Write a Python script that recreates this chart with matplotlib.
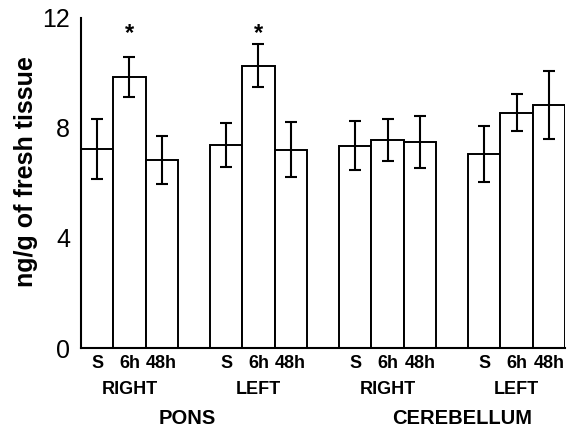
import matplotlib
matplotlib.use("Agg")
import matplotlib.pyplot as plt
import matplotlib.transforms as mtransforms
import numpy as np

plt.rcParams['font.family'] = ['Liberation Sans', 'DejaVu Sans']

# data (ng/g of fresh tissue)
times = ["S", "6h", "48h"]
sides = ["RIGHT", "LEFT", "RIGHT", "LEFT"]
regions = ["PONS", "CEREBELLUM"]
means = [
    [7.24, 9.85, 6.83],   # pons right
    [7.38, 10.27, 7.20],  # pons left
    [7.35, 7.56, 7.49],   # cerebellum right
    [7.05, 8.55, 8.84],   # cerebellum left
]
errors = [
    [1.10, 0.73, 0.87],
    [0.80, 0.78, 1.00],
    [0.89, 0.76, 0.93],
    [1.02, 0.67, 1.25],
]
signif = [
    [False, True, False],
    [False, True, False],
    [False, False, False],
    [False, False, False],
]

fig = plt.figure(figsize=(5.71, 4.28), dpi=100)
ax = fig.add_axes([0.1419, 0.1869, 0.9895 - 0.1419, 0.958 - 0.1869])

xpos, xlab = [], []
for g in range(4):
    x = 4 * g + np.arange(3) + 0.5
    ax.bar(x, means[g], width=1.0, color="white", edgecolor="black",
           linewidth=1.4, zorder=2)
    ax.errorbar(x, means[g], yerr=errors[g], fmt="none", ecolor="black",
                elinewidth=1.5, capsize=4, capthick=1.5, zorder=3)
    for i in range(3):
        if signif[g][i]:
            ax.text(x[i], 11.45, "*", ha="center", va="center",
                    fontsize=17, fontweight="bold")
    xpos.extend(x)
    xlab.extend(times)

ax.set_xlim(0, 15)
ax.set_ylim(0, 12)
ax.set_yticks([0, 4, 8, 12])
ax.set_yticklabels(["0", "4", "8", "12"], fontsize=18)
ax.set_xticks(xpos)
ax.set_xticklabels(xlab, fontsize=13, fontweight="bold")
ax.tick_params(axis="both", length=0)
ax.tick_params(axis="x", pad=5)
ax.tick_params(axis="y", pad=8)

for s in ["top", "right"]:
    ax.spines[s].set_visible(False)
for s in ["left", "bottom"]:
    ax.spines[s].set_linewidth(1.5)

trans = mtransforms.blended_transform_factory(ax.transData, fig.transFigure)
for g in range(4):
    ax.text(4 * g + 1.5, (428 - 389) / 428, sides[g], transform=trans,
            ha="center", va="center", fontsize=13, fontweight="bold")
ax.text(3.3, (428 - 419) / 428, regions[0], transform=trans,
        ha="center", va="center", fontsize=14.5, fontweight="bold")
ax.text(11.8, (428 - 419) / 428, regions[1], transform=trans,
        ha="center", va="center", fontsize=14.5, fontweight="bold")

fig.text(0.045, 0.60, "ng/g of fresh tissue", rotation=90, ha="center",
         va="center", fontsize=18, fontweight="bold")

fig.savefig("out.png", dpi=100)
